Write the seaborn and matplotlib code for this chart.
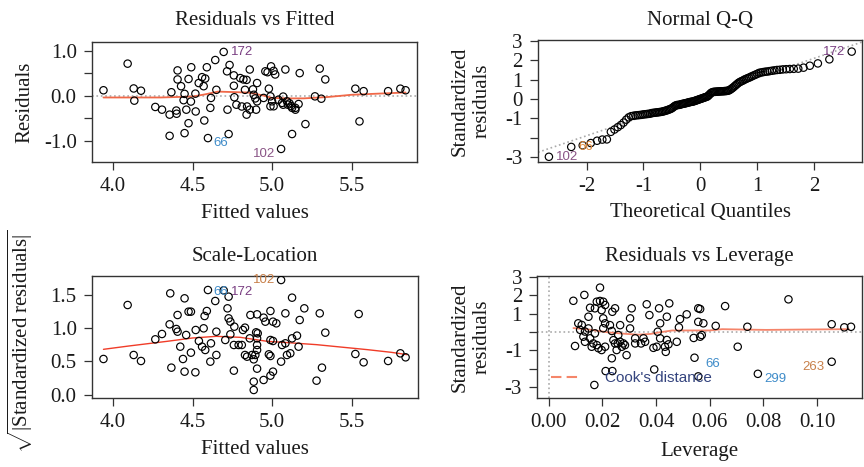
import matplotlib
matplotlib.use("Agg")
import matplotlib.pyplot as plt
from matplotlib.lines import Line2D
import seaborn as sns
from statistics import NormalDist

# ---------------- Residuals vs Fitted ----------------
# first three entries are the labelled observations 172, 66, 102
rf_fitted = [4.696, 4.597, 5.057,
             3.94, 4.092, 4.13, 4.176, 4.134, 4.266, 4.308, 4.356, 4.398, 4.40,
             4.367, 4.406, 4.406, 4.356, 4.45, 4.475, 4.444, 4.461, 4.45, 4.428,
             4.475, 4.492, 4.52, 4.518, 4.539, 4.56, 4.58, 4.57, 4.59, 4.574,
             4.643, 4.65, 4.616, 4.612, 4.727, 4.72, 4.717, 4.733, 4.76, 4.76,
             4.763, 4.776, 4.80, 4.82, 4.83, 4.86, 4.86, 4.84, 4.843, 4.906,
             4.885, 4.906, 4.90, 4.81, 4.49, 4.84, 4.895, 4.88,
             4.994, 4.958, 4.972, 5.02, 5.084, 5.174, 5.30, 5.335, 4.98, 4.947,
             4.99, 5.0, 4.99, 5.01, 5.04, 5.063, 5.07, 5.094, 5.10, 5.126, 5.147,
             5.167, 5.147, 5.27, 5.31, 5.21, 5.126, 5.11, 5.12, 5.07, 5.01,
             5.524, 5.576, 5.55, 5.73, 5.807, 5.84]
rf_resid = [0.97, -0.94, -1.18,
            0.12, 0.71, 0.16, 0.11, -0.11, -0.25, -0.31, -0.42, -0.33, -0.40,
            0.076, 0.36, 0.56, -0.89, -0.83, -0.61, -0.10, -0.31, 0.04, 0.21,
            0.37, 0.63, -0.35, 0.045, 0.28, 0.41, 0.38, 0.21, 0.63, -0.55,
            0.79, 0.13, -0.05, -0.27, -0.85, -0.31, 0.54, 0.68, 0.45, 0.22,
            -0.035, -0.2, 0.39, 0.36, 0.13, 0.58, -0.31, -0.42, -0.24, 0.28,
            0.02, -0.125, -0.31, -0.24, -0.13, 0.35, -0.06, 0.14,
            0.65, 0.54, 0.52, 0.47, 0.58, 0.50, 0.60, 0.36, 0.155, -0.05,
            -0.015, -0.125, -0.235, -0.235, -0.09, -0.16, -0.2, -0.125, -0.2,
            -0.27, -0.27, -0.185, -0.31, -0.015, -0.067, -0.63, -0.85, -0.17,
            -0.23, -0.02, 0.55,
            0.155, 0.1, -0.57, 0.1, 0.155, 0.12]
rf_labels = [("172", 0, 5, 0, "left", "#7a3f82"),
             ("66", 1, 4, -3.5, "left", "#3f8cc9"),
             ("102", 2, -4, -3.5, "right", "#8a5586")]
rf_smooth_x = [3.94, 4.1, 4.3, 4.5, 4.58, 4.66, 4.85, 4.95, 5.0, 5.1, 5.2,
               5.35, 5.5, 5.7, 5.84]
rf_smooth_y = [-0.04, -0.04, -0.04, -0.02, 0.03, 0.09, 0.07, 0.0, -0.05,
               -0.06, -0.06, -0.03, 0.02, 0.05, 0.07]

# ---------------- Normal Q-Q ----------------
# sorted standardized residuals
qq_std_resid = [
    -2.99, -2.48, -2.40, -2.28, -2.16, -2.10, -2.09, -1.70, -1.58, -1.46,
    -1.35, -1.22, -1.07, -0.95, -0.89, -0.87, -0.85, -0.84, -0.83, -0.82,
    -0.80, -0.79, -0.78, -0.77, -0.76, -0.73, -0.72, -0.71, -0.70, -0.69,
    -0.68, -0.67, -0.66, -0.64, -0.62, -0.60, -0.58, -0.55, -0.53, -0.50,
    -0.46, -0.41, -0.36, -0.33, -0.31, -0.31, -0.30, -0.28, -0.26, -0.25,
    -0.24, -0.22, -0.21, -0.19, -0.18, -0.16, -0.15, -0.14, -0.13, -0.11,
    -0.09, -0.07, -0.05, -0.03, -0.01, 0.01, 0.03, 0.05, 0.07, 0.09,
    0.11, 0.13, 0.18, 0.24, 0.30, 0.34, 0.36, 0.37, 0.37, 0.38,
    0.38, 0.39, 0.39, 0.40, 0.40, 0.40, 0.41, 0.41, 0.42, 0.43,
    0.46, 0.50, 0.55, 0.60, 0.66, 0.72, 0.78, 0.84, 0.88, 0.92,
    0.95, 1.00, 1.03, 1.07, 1.10, 1.14, 1.18, 1.22, 1.26, 1.30,
    1.35, 1.37, 1.39, 1.41, 1.42, 1.44, 1.46, 1.48, 1.50, 1.51,
    1.53, 1.54, 1.55, 1.56, 1.57, 1.62, 1.72, 1.84, 2.05, 2.45]
qq_labels = [("102", 0, 5, 0, "left", "#8a5586"),
             ("66", 1, 5, 0, "left", "#e08a3c"),
             ("172", -1, -5, 0, "right", "#7a3f82")]
qq_line_intercept = 0.1
qq_line_slope = 1.0

# ---------------- Scale-Location ----------------
sl_fitted = [4.696, 4.597, 5.057,
             3.94, 4.092, 4.13, 4.176, 4.266, 4.308, 4.356, 4.36, 4.367, 4.398,
             4.406, 4.406, 4.423, 4.45, 4.44, 4.45, 4.46, 4.475, 4.49, 4.49,
             4.518, 4.52, 4.54, 4.56, 4.57, 4.576, 4.59, 4.58, 4.612, 4.616,
             4.643, 4.65, 4.65, 4.706, 4.72, 4.727, 4.727, 4.738, 4.738, 4.76,
             4.763, 4.76, 4.79, 4.81, 4.817, 4.83, 4.83, 4.843, 4.864, 4.86,
             4.874, 4.885, 4.885, 4.885, 4.90, 4.906,
             5.126, 5.203, 5.30, 5.545, 5.084, 4.99, 4.947, 4.958, 5.006, 5.027,
             5.174, 4.906, 4.91, 4.906, 4.99, 5.006, 5.063, 5.084, 5.126, 5.157,
             5.167, 5.335, 4.895, 4.906, 4.98, 4.99, 5.057, 5.094, 5.115, 5.006,
             4.99, 4.947, 4.906, 5.314, 5.28, 5.524, 5.576, 5.73, 5.807, 5.84]
sl_sqrt_std = [1.565, 1.57, 1.72,
               0.535, 1.345, 0.595, 0.505, 0.83, 0.91, 1.055, 1.52, 0.405, 0.985,
               0.945, 1.195, 0.72, 1.445, 0.535, 0.345, 0.895, 1.245, 1.245, 0.63,
               0.335, 0.97, 0.805, 0.72, 0.995, 1.18, 1.255, 0.67, 0.495, 0.77,
               1.405, 0.595, 0.945, 0.82, 1.295, 1.145, 1.47, 1.095, 0.905, 0.745,
               1.02, 0.36, 0.745, 0.745, 0.97, 1.005, 0.595, 0.57, 1.195, 0.845,
               0.595, 0.53, 0.07, 0.195, 0.935, 0.745,
               1.455, 1.295, 1.22, 1.21, 1.22, 1.255, 1.155, 1.095, 1.095, 1.07,
               1.12, 1.205, 0.92, 0.845, 0.82, 0.805, 0.745, 0.77, 0.845, 0.885,
               0.72, 0.93, 0.595, 0.67, 0.605, 0.58, 0.495, 0.595, 0.62, 0.345,
               0.285, 0.22, 0.39, 0.405, 0.21, 0.61, 0.485, 0.505, 0.62, 0.56]
sl_labels = [("172", 0, 5, -1.5, "left", "#7a3f82"),
             ("66", 1, 4, -1.5, "left", "#3f8cc9"),
             ("102", 2, -4, 0, "right", "#c8804a")]
sl_smooth_x = [3.94, 4.1, 4.34, 4.5, 4.65, 4.8, 4.97, 5.1, 5.28, 5.45, 5.6,
               5.75, 5.85]
sl_smooth_y = [0.68, 0.73, 0.80, 0.85, 0.875, 0.86, 0.80, 0.78, 0.75, 0.71,
               0.675, 0.635, 0.60]

# ---------------- Residuals vs Leverage ----------------
rl_leverage = [0.0557, 0.0779, 0.1054,
               0.00917, 0.01327, 0.0191, 0.0098, 0.011, 0.0123, 0.0117, 0.0129,
               0.0135, 0.0148, 0.0135, 0.0154, 0.0166, 0.016, 0.0179, 0.0185,
               0.0197, 0.021, 0.0172, 0.0154, 0.0148, 0.0179, 0.0172, 0.0191,
               0.0203, 0.021, 0.0197, 0.0203, 0.021, 0.0203, 0.0247, 0.0237,
               0.0228, 0.0235, 0.0241, 0.0247, 0.0257, 0.0266, 0.0272, 0.0278,
               0.0284, 0.0259, 0.0266, 0.0253, 0.0235, 0.0212, 0.0237, 0.017,
               0.029, 0.0303, 0.0303, 0.0309, 0.0322, 0.0322, 0.0344, 0.0353,
               0.0365, 0.0375, 0.0359, 0.039, 0.0393, 0.0411, 0.0415, 0.0406,
               0.0415, 0.0402, 0.0433, 0.0436, 0.044, 0.0449, 0.0446, 0.044,
               0.0477, 0.0489, 0.0485, 0.0514, 0.0543, 0.054, 0.0557, 0.0557,
               0.0564, 0.057, 0.0564, 0.0576, 0.0622, 0.0657, 0.0704, 0.074,
               0.0893, 0.1054, 0.1101, 0.1126]
rl_std_resid = [-2.42, -2.28, -1.62,
                1.71, 2.03, 2.43, -0.76, 0.48, 0.39, 0.12, -0.25,
                0.03, 0.2, -0.53, -0.34, -0.62, -0.80, -0.71, -0.88,
                -0.98, -0.80, -0.07, 1.33, 0.84, 1.66, 1.30, 1.70,
                1.66, 1.48, 1.20, 0.75, 0.48, 0.21, 1.30, 1.11,
                0.38, 0.06, -0.44, -0.62, -0.62, -0.53, -0.80, -0.62,
                -0.71, -0.16, 0.38, -0.98, -1.43, -2.13, -2.13, -2.89,
                -1.26, 0.20, 0.75, 1.30, -0.34, -0.62, -0.62, -0.34,
                1.52, 0.93, -0.53, -0.86, -2.04, 1.30, 0.48, 0.02,
                -0.34, -0.80, -0.80, -1.08, 0.84, 1.57, -0.67, -0.43,
                -0.53, 0.71, 0.26, 0.97, -1.40, -0.32, 1.30, 0.56,
                -0.25, -0.16, 1.26, 0.48, 0.34, 1.42, -0.80, 0.29,
                1.79, 0.43, 0.26, 0.29]
rl_labels = [("66", 0, 5, 9, "left", "#3f8cc9"),
             ("299", 1, 5, -3.5, "left", "#3f8cc9"),
             ("263", 2, -5, -3.5, "right", "#c8804a")]
rl_smooth_x = [0.0092, 0.0150, 0.0224, 0.0290, 0.0335, 0.0380, 0.0410, 0.046,
               0.052, 0.060, 0.0646, 0.072, 0.081, 0.095, 0.1118]
rl_smooth_y = [0.22, 0.14, -0.02, -0.10, -0.14, -0.10, -0.02, 0.09, 0.09,
               0.09, 0.16, 0.14, 0.12, 0.14, 0.16]

# ---------------- styling ----------------
sns.set_theme(style="ticks")
plt.rcParams["font.family"] = ["Liberation Serif", "DejaVu Serif"]
plt.rcParams["mathtext.fontset"] = "custom"
plt.rcParams["mathtext.rm"] = "Liberation Serif"
plt.rcParams["mathtext.it"] = "Liberation Serif:italic"

TICK_FS = 15
LABEL_FS = 15
TITLE_FS = 15
ID_FS = 9.5
SPINE = "#333333"

fig = plt.figure(figsize=(8.64, 4.67), dpi=100)
ax1 = fig.add_axes([0.1065, 0.6531, 0.3762, 0.2570])
ax2 = fig.add_axes([0.6227, 0.6531, 0.3750, 0.2612])
ax3 = fig.add_axes([0.1065, 0.1478, 0.3773, 0.2606])
ax4 = fig.add_axes([0.6219, 0.1478, 0.3758, 0.2606])


def style_axes(ax, title, title_y, xlabel, ylabel, xlab_y, ylab_x, ylab_y=0.5,
               ylab_fs=LABEL_FS):
    for sp in ax.spines.values():
        sp.set_color(SPINE)
        sp.set_linewidth(1.0)
    ax.tick_params(direction="out", length=6, width=0.9, colors=SPINE,
                   labelsize=TICK_FS, pad=5, labelcolor="#1a1a1a")
    ax.set_title(title, fontsize=TITLE_FS, y=title_y, va="center", pad=0,
                 color="#1a1a1a")
    ax.set_xlabel(xlabel, fontsize=LABEL_FS, color="#1a1a1a")
    ax.set_ylabel(ylabel, fontsize=ylab_fs, color="#1a1a1a",
                  linespacing=1.25)
    ax.xaxis.label.set_va("center")
    ax.yaxis.label.set_va("center")
    ax.xaxis.set_label_coords(0.5, xlab_y)
    ax.yaxis.set_label_coords(ylab_x, ylab_y)


def points(ax, x, y):
    sns.scatterplot(x=x, y=y, ax=ax, marker="o", s=28, facecolor="none",
                    edgecolor="black", linewidth=0.85, zorder=3, legend=False)


def add_ids(ax, xs, ys, labels):
    for text, idx, dx, dy, ha, col in labels:
        ax.annotate(text, xy=(xs[idx], ys[idx]), xytext=(dx, dy),
                    textcoords="offset points", ha=ha, va="center",
                    fontsize=ID_FS, color=col, family="Liberation Sans",
                    zorder=4)


# Residuals vs Fitted
ax1.axhline(0, color="#aaaaaa", ls=":", lw=1.2, zorder=1)
points(ax1, rf_fitted, rf_resid)
sns.lineplot(x=rf_smooth_x, y=rf_smooth_y, ax=ax1, color="#f06848", lw=1.3,
             sort=False, estimator=None, zorder=2)
add_ids(ax1, rf_fitted, rf_resid, rf_labels)
ax1.set_xlim(3.868, 5.912)
ax1.set_ylim(-1.47, 1.19)
ax1.set_xticks([4.0, 4.5, 5.0, 5.5], ["4.0", "4.5", "5.0", "5.5"])
ax1.set_yticks([-1.0, -0.5, 0.0, 0.5, 1.0], ["-1.0", "", "0.0", "", "1.0"])
style_axes(ax1, "Residuals vs Fitted", 1.183, "Fitted values", "Residuals",
           -0.425, -0.206)

# Normal Q-Q
n = len(qq_std_resid)
qq_theoretical = [NormalDist().inv_cdf((i + 0.5) / n) for i in range(n)]
ax2.axline((0, qq_line_intercept), slope=qq_line_slope, color="#aaaaaa",
           ls=":", lw=1.2, zorder=1)
points(ax2, qq_theoretical, qq_std_resid)
add_ids(ax2, qq_theoretical, qq_std_resid, qq_labels)
ax2.set_xlim(-2.857, 2.847)
ax2.set_ylim(-3.26, 3.05)
ax2.set_xticks([-2, -1, 0, 1, 2], ["-2", "-1", "0", "1", "2"])
ax2.set_yticks([-3, -2, -1, 0, 1, 2, 3], ["-3", "", "-1", "0", "1", "2", "3"])
style_axes(ax2, "Normal Q-Q", 1.164, "Theoretical Quantiles",
           "Standardized\nresiduals", -0.418, -0.207)

# Scale-Location
points(ax3, sl_fitted, sl_sqrt_std)
sns.lineplot(x=sl_smooth_x, y=sl_smooth_y, ax=ax3, color="#f03c28", lw=1.0,
             sort=False, estimator=None, zorder=2)
add_ids(ax3, sl_fitted, sl_sqrt_std, sl_labels)
ax3.set_xlim(3.868, 5.918)
ax3.set_ylim(-0.05, 1.776)
ax3.set_xticks([4.0, 4.5, 5.0, 5.5], ["4.0", "4.5", "5.0", "5.5"])
ax3.set_yticks([0.0, 0.5, 1.0, 1.5], ["0.0", "0.5", "1.0", "1.5"])
style_axes(ax3, "Scale-Location", 1.159, "Fitted values",
           r"$\sqrt{|\mathrm{Standardized\ residuals}|}$", -0.425, -0.221,
           ylab_y=0.468)

# Residuals vs Leverage
ax4.axhline(0, color="#aaaaaa", ls=":", lw=1.2, zorder=1)
ax4.axvline(0, color="#aaaaaa", ls=":", lw=1.2, zorder=1)
points(ax4, rl_leverage, rl_std_resid)
sns.lineplot(x=rl_smooth_x, y=rl_smooth_y, ax=ax4, color="#f5846a", lw=1.3,
             sort=False, estimator=None, zorder=2)
add_ids(ax4, rl_leverage, rl_std_resid, rl_labels)
ax4.set_xlim(-0.00425, 0.1167)
ax4.set_ylim(-3.6, 3.05)
ax4.set_xticks([0.0, 0.02, 0.04, 0.06, 0.08, 0.10],
               ["0.00", "0.02", "0.04", "0.06", "0.08", "0.10"])
ax4.set_yticks([-3, -2, -1, 0, 1, 2, 3], ["-3", "", "-1", "", "1", "2", "3"])
style_axes(ax4, "Residuals vs Leverage", 1.159, "Leverage",
           "Standardized\nresiduals", -0.436, -0.204)
cook_handle = Line2D([], [], color="#f5866a", lw=1.5, dashes=(5, 2.5))
ax4.legend(handles=[cook_handle], labels=["Cook's distance"],
           loc="lower left", bbox_to_anchor=(0.02, 0.04), frameon=False,
           borderpad=0, handlelength=2.0, handletextpad=1.5,
           prop={"family": "Liberation Sans", "size": 11},
           labelcolor="#34447e")

fig.savefig("out.png", dpi=100)
